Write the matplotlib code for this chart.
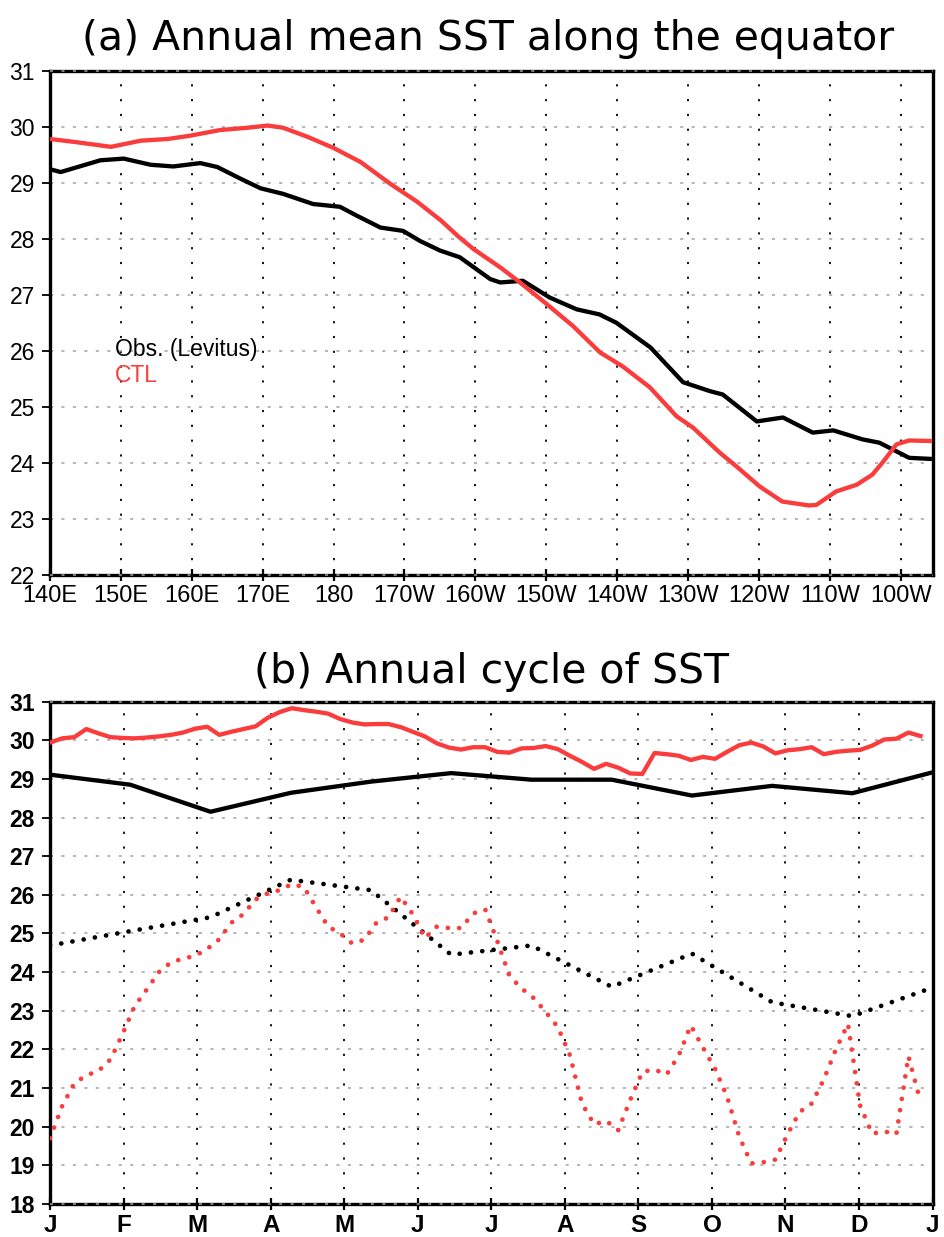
import numpy as np
import matplotlib.pyplot as plt

# ---- (a) annual mean SST along the equator (longitude in deg east) ----
lon_obs = [140, 141.5, 147.1, 150.4, 154.2, 157.4, 161.2, 163.6, 166.9, 169.7,
           172.9, 177.1, 180.9, 183.3, 186.6, 189.8, 192.2, 195.0, 197.8, 202.1,
           203.5, 206.7, 210.5, 214.3, 217.5, 219.9, 224.7, 229.3, 233.1, 234.9,
           239.7, 243.4, 247.6, 250.5, 254.6, 257.0, 261.2, 264.4]
sst_obs = [29.24, 29.19, 29.40, 29.43, 29.32, 29.29, 29.35, 29.28, 29.07, 28.90,
           28.80, 28.62, 28.57, 28.41, 28.20, 28.14, 27.96, 27.79, 27.67, 27.28,
           27.22, 27.25, 26.95, 26.74, 26.65, 26.50, 26.06, 25.44, 25.28, 25.22,
           24.74, 24.81, 24.54, 24.58, 24.42, 24.36, 24.09, 24.07]

lon_ctl = [140, 143.3, 148.6, 152.8, 156.6, 159.8, 164.0, 167.8, 170.7, 172.9,
           176.3, 180.0, 183.8, 188.0, 191.8, 195.2, 197.6, 199.7, 203.5, 206.3,
           210.1, 213.8, 217.6, 220.8, 224.6, 228.4, 230.7, 234.5, 236.9, 240.1,
           243.3, 247.1, 248.1, 250.9, 253.8, 256.0, 257.4, 259.4, 261.2, 264.4]
sst_ctl = [29.78, 29.73, 29.64, 29.75, 29.78, 29.84, 29.94, 29.98, 30.02, 29.98,
           29.82, 29.62, 29.37, 28.98, 28.66, 28.32, 28.04, 27.82, 27.49, 27.22,
           26.83, 26.44, 25.97, 25.72, 25.35, 24.83, 24.63, 24.18, 23.93, 23.58,
           23.31, 23.24, 23.25, 23.49, 23.61, 23.79, 24.00, 24.33, 24.40, 24.39]

lon_ticks = [140, 150, 160, 170, 180, 190, 200, 210, 220, 230, 240, 250, 260]
lon_labels = ['140E', '150E', '160E', '170E', '180', '170W', '160W', '150W',
              '140W', '130W', '120W', '110W', '100W']

# ---- (b) annual cycle of SST ----
# observed: 12 monthly values, CTL: 73 pentads
obs_warm = [29.11, 28.85, 28.15, 28.64, 28.93, 29.15, 28.98, 28.98, 28.57, 28.82, 28.63, 29.17]
obs_cold = [24.69, 25.06, 25.42, 26.39, 26.12, 24.45, 24.69, 23.62, 24.48, 23.22, 22.86, 23.60]

ctl_warm = [29.94, 30.05, 30.08, 30.29, 30.18, 30.08, 30.06, 30.05, 30.07, 30.10,
            30.14, 30.20, 30.30, 30.35, 30.14, 30.22, 30.29, 30.36, 30.58, 30.73,
            30.83, 30.78, 30.74, 30.69, 30.55, 30.46, 30.41, 30.42, 30.42, 30.34,
            30.22, 30.10, 29.92, 29.81, 29.76, 29.82, 29.82, 29.70, 29.68, 29.79,
            29.80, 29.85, 29.77, 29.60, 29.44, 29.26, 29.39, 29.29, 29.14, 29.13,
            29.67, 29.64, 29.60, 29.49, 29.57, 29.52, 29.70, 29.87, 29.94, 29.84,
            29.66, 29.74, 29.77, 29.82, 29.64, 29.70, 29.73, 29.75, 29.86, 30.02,
            30.04, 30.20, 30.11]
ctl_cold = [19.70, 20.53, 21.12, 21.33, 21.44, 21.74, 22.40, 23.12, 23.55, 24.00,
            24.25, 24.35, 24.42, 24.60, 24.85, 25.28, 25.50, 25.88, 26.04, 26.12,
            26.28, 26.20, 25.68, 25.18, 25.00, 24.74, 24.84, 25.28, 25.42, 25.95,
            25.50, 24.88, 25.18, 25.14, 25.14, 25.52, 25.62, 24.80, 23.90, 23.58,
            23.33, 22.97, 22.58, 21.85, 20.60, 20.06, 20.15, 19.91, 20.70, 21.42,
            21.48, 21.35, 21.84, 22.62, 22.05, 21.50, 20.78, 19.75, 19.05, 19.08,
            19.15, 19.80, 20.38, 20.60, 21.22, 22.00, 22.66, 20.55, 19.82, 19.88,
            19.80, 21.82, 20.65]

month_labels = ['J', 'F', 'M', 'A', 'M', 'J', 'J', 'A', 'S', 'O', 'N', 'D', 'J']

RED = '#fa3c3c'
FONT = ['Liberation Sans', 'DejaVu Sans']
TITLE_FONT = ['DejaVu Sans']
dotted = (0, (0.01, 2.4))


def style_axes(ax, ylo, yhi, weight):
    ax.set_ylim(ylo, yhi)
    ax.set_yticks(range(ylo, yhi + 1))
    ax.set_yticklabels([str(v) for v in range(ylo, yhi + 1)],
                       fontsize=16.5, family=FONT, fontweight=weight)
    ax.grid(axis='x', color='black', linestyle=(0, (1.2, 7)), linewidth=1.3)
    ax.grid(axis='y', color='#a0a0a0', linestyle=(0, (2, 5.5)), linewidth=1.1)
    ax.set_axisbelow(True)
    for s in ax.spines.values():
        s.set_linewidth(2.4)
    ax.tick_params(axis='y', direction='out', length=6, width=1.3, pad=5)
    ax.tick_params(axis='x', direction='inout', length=8, width=1.6, pad=3)
    # gray dashes over top/bottom frame like the original
    for yv in (ylo, yhi):
        ax.axhline(yv, color='#a0a0a0', linestyle=(0, (2, 5.5)), linewidth=1.1,
                   zorder=3, clip_on=False)


fig = plt.figure(figsize=(9.44, 12.37), dpi=100)

# panel (a)
ax1 = fig.add_axes([0.0530, 0.5352, 0.9349, 0.4077])
ax1.plot(lon_obs, sst_obs, color='black', lw=3.1, zorder=4, solid_capstyle='butt')
ax1.plot(lon_ctl, sst_ctl, color=RED, lw=3.1, zorder=4, solid_capstyle='butt')
ax1.set_xlim(140, 264.5)
ax1.set_xticks(lon_ticks)
ax1.set_xticklabels(lon_labels, fontsize=17, family=FONT)
style_axes(ax1, 22, 31, 'normal')
ax1.text(149.1, 25.90, 'Obs. (Levitus)', color='black', fontsize=16.5,
         family=FONT, va='baseline')
ax1.text(149.1, 25.45, 'CTL', color=RED, fontsize=16.5, family=FONT, va='baseline')
fig.text(0.517, 1 - 50 / 1237, '(a) Annual mean SST along the equator',
         fontsize=29.5, family=TITLE_FONT, ha='center', va='baseline')

# panel (b)
t_obs = np.linspace(0, 12, len(obs_warm))
t_ctl = np.arange(len(ctl_warm)) * 12 / 73

ax2 = fig.add_axes([0.0530, 0.0267, 0.9349, 0.4061])
ax2.plot(t_obs, obs_warm, color='black', lw=3.1, zorder=4)
ax2.plot(t_ctl, ctl_warm, color=RED, lw=3.1, zorder=4)
ax2.plot(t_obs, obs_cold, color='black', lw=3.4, linestyle=dotted,
         dash_capstyle='round', zorder=4)
ax2.plot(t_ctl, ctl_cold, color=RED, lw=3.4, linestyle=dotted,
         dash_capstyle='round', zorder=4)
ax2.set_xlim(0, 12)
ax2.set_xticks(range(13))
ax2.set_xticklabels(month_labels, fontsize=17.5, family=FONT, fontweight='bold')
style_axes(ax2, 18, 31, 'bold')
fig.text(0.521, 1 - 683 / 1237, '(b) Annual cycle of SST',
         fontsize=29.5, family=TITLE_FONT, ha='center', va='baseline')

fig.savefig('out.png', dpi=100)
